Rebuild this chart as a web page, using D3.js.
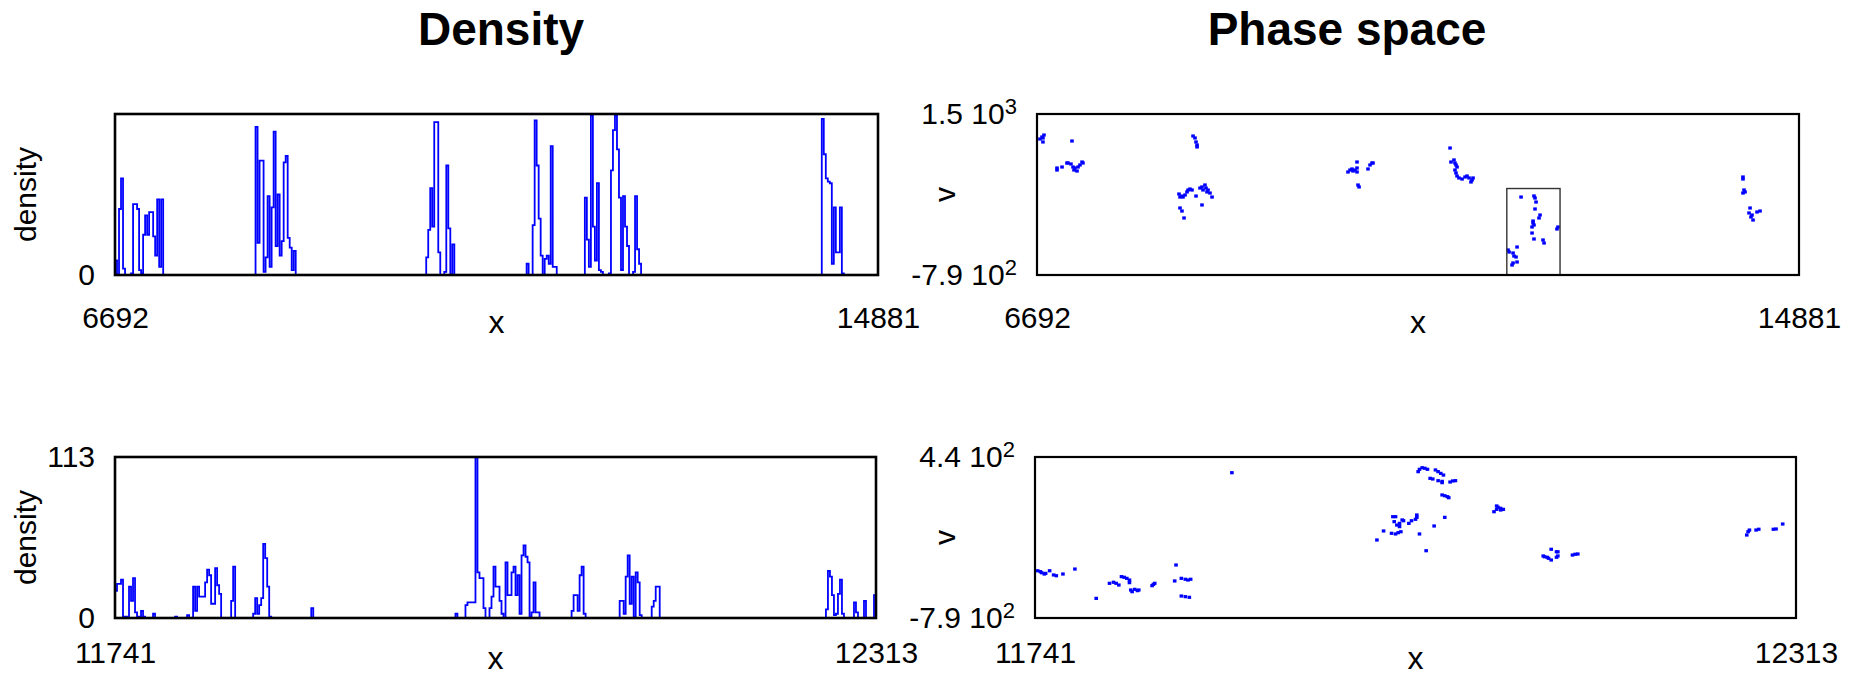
<!DOCTYPE html>
<html lang="en">

<head>
    <meta charset="utf-8">
    <title>Density / Phase space</title>
    <script type="text/javascript" src="https://d3js.org/d3.v7.min.js"></script>
    <style>
        body { margin: 0; background: #fff; }
        text { font-family: "Liberation Sans", Arial, Helvetica, sans-serif; fill: #000; }
    </style>
</head>

<body>
    <div id="container"></div>
    <script type="text/javascript">
        var w = 1858;
        var h = 677;

        // ---- data ----
        // density histograms: [first bin, heights of consecutive bins], 380 bins across the x range
        var nBins = 380;
        var topXRange = [6692, 14881];
        var topDensityMax = 100;          // top panel has no upper label, heights in % of panel
        var topDensityRuns = [
            [0, [9, 0, 41, 60, 4]],
            [8, [1, 44, 44, 41, 3, 1, 25, 37, 25, 39, 39, 24, 12, 47, 5, 47]],
            [70, [92, 20, 71, 71, 2, 11, 49, 5, 42, 89, 18, 50, 12, 21, 70, 74, 23, 17, 3, 15]],
            [155, [11, 28, 54, 30, 95, 95, 14, 0, 0, 2, 68, 29, 0, 19]],
            [205, [7, 0, 0, 31, 96, 68, 35, 12, 0, 10, 12, 7, 80, 5, 5]],
            [234, [48, 22, 5, 99, 30, 9, 57, 3, 2, 0, 0, 0, 1, 65, 90, 99, 78, 48, 3, 49, 30, 18, 0, 0, 2, 49, 16, 7]],
            [352, [97, 75, 60, 58, 57, 7, 42, 14, 14, 42, 1]]
        ];

        var bottomXRange = [11741, 12313];
        var bottomDensityMax = 113;
        var bottomDensityRuns = [
            [0, [19, 24, 24, 27, 1, 1, 0, 22, 12, 28, 4, 1, 1, 5, 1]],
            [19, [3]],
            [30, [1]],
            [36, [2]],
            [39, [22, 5, 22, 15, 15, 15, 25, 34, 30, 10, 10, 35, 23, 17]],
            [58, [12, 36]],
            [69, [3, 14, 3, 9, 14, 52, 42, 22, 1]],
            [98, [7]],
            [170, [3]],
            [175, [9, 11, 11, 11, 11, 113, 32, 28, 28, 7, 0, 0, 7, 15, 36, 22, 22, 12, 3, 0, 39, 16, 16, 32, 36, 16, 30, 3, 44, 51, 43, 39, 1, 4, 25, 4, 4]],
            [228, [5, 16, 16, 5, 30, 36, 3]],
            [252, [12, 12, 3, 29, 44, 10, 29, 1, 32, 25, 2]],
            [268, [8, 12, 22, 22]],
            [355, [6, 33, 29, 16, 2, 3, 17, 27, 3]],
            [369, [11, 4]],
            [374, [12]],
            [379, [16]]
        ];

        // phase space points [x, v]
        var topVRange = [-790, 1500];
        var topPhase = [
            [6724, 1144], [6746, 1173], [6756, 1159], [6767, 1201], [6756, 1102], [7068, 1116],
            [6907, 703], [6907, 732], [6961, 746], [7014, 803], [7025, 803], [7057, 789], [7079, 746], [7090, 703],
            [7100, 732], [7122, 689], [7133, 746], [7154, 775], [7176, 817], [7186, 803],
            [8369, 1187], [8390, 1159], [8401, 1102], [8412, 1059], [8412, 1031],
            [8218, 362], [8229, 319], [8250, 333], [8261, 319], [8283, 348], [8304, 391], [8315, 419], [8336, 433],
            [8358, 419], [8401, 333], [8444, 447], [8465, 462], [8476, 419], [8497, 490], [8508, 447], [8519, 391],
            [8530, 419], [8551, 376], [8573, 319], [8465, 206], [8229, 163], [8250, 120], [8272, 21],
            [10034, 675], [10056, 703], [10077, 718], [10088, 689], [10109, 703], [10131, 817], [10131, 675],
            [10142, 490], [10153, 462], [10249, 718], [10271, 775], [10292, 803], [10303, 803], [10131, 732],
            [11131, 1016], [11141, 817], [11173, 846], [11184, 803], [11195, 775], [11206, 746], [11184, 703],
            [11195, 661], [11206, 618], [11227, 590], [11260, 575], [11292, 604], [11313, 618], [11335, 590],
            [11367, 561], [11378, 590], [11356, 533],
            [11894, 319], [12033, 334], [12044, 305], [12055, 248], [12044, 149], [12098, 63], [12087, 21],
            [12023, -22], [12023, -50], [12033, -79], [12012, -107], [12012, -193], [12033, -278], [12130, -292],
            [12141, -335], [12291, -107], [12280, -136], [11754, -434], [11765, -463], [11808, -477], [11818, -520],
            [11840, -534], [11851, -605], [11808, -619], [11797, -648], [11851, -392],
            [14279, 604], [14279, 575], [14290, 419], [14279, 376], [14301, 391], [14355, 163], [14344, 92],
            [14365, 35], [14376, 63], [14387, -8], [14462, 120], [14430, 106]
        ];

        var bottomVRange = [-790, 440];
        var bottomPhase = [
            [11889, 320],
            [11743, -429], [11745, -436], [11746, -444], [11748, -454], [11749, -449], [11752, -429], [11755, -461],
            [11757, -467], [11762, -454], [11771, -416], [11787, -640],
            [11797, -525], [11800, -517], [11802, -525], [11804, -538], [11806, -474], [11808, -479], [11810, -487],
            [11812, -500], [11812, -520], [11813, -576], [11814, -589], [11816, -571], [11818, -581], [11819, -576],
            [11829, -543], [11830, -533], [11831, -525],
            [11847, -385], [11846, -507], [11851, -487], [11854, -494], [11856, -500], [11858, -494],
            [11851, -622], [11854, -627], [11857, -632],
            [11998, -194], [12003, -125], [12010, -16], [12012, -16], [12011, -54], [12013, -80], [12015, -67],
            [12017, -41], [12018, -47], [12015, -92], [12009, -143], [12012, -148], [12014, -138], [12016, -131],
            [12022, -67], [12024, -47], [12027, -36], [12028, -3], [12028, -21], [12030, -148], [12041, -87],
            [12049, -21], [12035, -276],
            [12029, 328], [12030, 346], [12032, 358], [12034, 354], [12036, 346], [12042, 341], [12044, 328],
            [12046, 315], [12048, 302], [12038, 277], [12040, 272], [12044, 259], [12047, 244], [12047, 254],
            [12053, 249], [12055, 257], [12057, 259], [12047, 150], [12049, 144], [12051, 137], [12052, 129],
            [12086, 22], [12088, 40], [12089, 56], [12091, 48], [12093, 40], [12088, 66], [12091, 35],
            [12123, -316], [12124, -322], [12126, -326], [12127, -334], [12129, -347], [12129, -265], [12133, -284],
            [12134, -284], [12133, -326], [12134, -316], [12145, -309], [12147, -303], [12149, -301],
            [12276, -156], [12277, -131], [12278, -118], [12283, -118], [12285, -112], [12296, -112], [12298, -110],
            [12303, -72]
        ];

        // zoom window of the lower phase plot, marked on the upper one
        var insetBox = [bottomXRange, bottomVRange];

        // ---- layout ----
        var boxes = {
            densTop: { l: 115, r: 878, t: 114, b: 275 },
            densBot: { l: 115, r: 876, t: 457, b: 618 },
            phaseTop: { l: 1037, r: 1799, t: 114, b: 275 },
            phaseBot: { l: 1035, r: 1796, t: 457, b: 618 }
        };
        var blue = "#0000ff";

        const svg = d3.select("div#container")
            .append("svg")
            .attr("width", w)
            .attr("height", h)
            .style("display", "block")
            .style("background-color", "#ffffff");

        svg.append("text").attr("x", 501).attr("y", 45).attr("text-anchor", "middle")
            .style("font-size", "46px").style("font-weight", "bold").text("Density");
        svg.append("text").attr("x", 1347).attr("y", 45).attr("text-anchor", "middle")
            .style("font-size", "46px").style("font-weight", "bold").text("Phase space");

        function styleAxis(g) {
            g.select(".domain").remove();
            g.selectAll("text").attr("font-size", 30)
                .attr("font-family", "'Liberation Sans', Arial, sans-serif").attr("fill", "#000");
        }

        function xAxis(b, x, pad, labelDy) {
            svg.append("g")
                .attr("transform", "translate(0," + b.b + ")")
                .call(d3.axisBottom(x).tickValues(x.domain()).tickSize(0).tickPadding(pad).tickFormat(d3.format("d")))
                .call(styleAxis);
            svg.append("text")
                .attr("x", (b.l + b.r) / 2)
                .attr("y", b.b + labelDy)
                .attr("text-anchor", "middle")
                .style("font-size", "32px")
                .text("x");
        }

        function yLabel(cx, b, txt) {
            var cy = (b.t + b.b) / 2;
            svg.append("text")
                .attr("transform", "translate(" + cx + "," + cy + ") rotate(-90)")
                .attr("text-anchor", "middle")
                .attr("dy", "0.35em")
                .style("font-size", "30px")
                .text(txt);
        }

        function drawFrame(b, sw) {
            svg.append("rect")
                .attr("x", b.l).attr("y", b.t)
                .attr("width", b.r - b.l).attr("height", b.b - b.t)
                .attr("fill", "none").attr("stroke", "#000").attr("stroke-width", sw);
        }

        function densityPanel(b, xr, ymax, runs, yTicks, pad, labelDy) {
            var x = d3.scaleLinear().domain(xr).range([b.l, b.r]);
            var y = d3.scaleLinear().domain([0, ymax]).range([b.b, b.t]);
            var bw = (xr[1] - xr[0]) / nBins;
            var line = d3.line().x(d => x(d[0])).y(d => y(d[1])).curve(d3.curveStepAfter);

            svg.append("g").selectAll("path")
                .data(runs)
                .enter()
                .append("path")
                .attr("d", function (r) {
                    var x0 = xr[0] + r[0] * bw;
                    var pts = [[x0, 0]];
                    r[1].forEach((v, i) => pts.push([x0 + i * bw, v]));
                    pts.push([x0 + r[1].length * bw, 0]);
                    return line(pts);
                })
                .attr("fill", "none")
                .attr("stroke", blue)
                .attr("stroke-width", 1.8);

            drawFrame(b, 2.6);

            svg.append("g")
                .attr("transform", "translate(" + b.l + ",0)")
                .call(d3.axisLeft(y).tickValues(yTicks).tickSize(0).tickPadding(20).tickFormat(d3.format("d")))
                .call(styleAxis);
            xAxis(b, x, pad, labelDy);
            yLabel(25, b, "density");
        }

        function sciLabel(v) {
            var e = Math.floor(Math.log10(Math.abs(v)));
            var m = v / Math.pow(10, e);
            return [m.toFixed(1) + " 10", String(e)];
        }

        function phasePanel(b, xr, vr, pts, pad, labelDy, inset) {
            var x = d3.scaleLinear().domain(xr).range([b.l, b.r]);
            var y = d3.scaleLinear().domain(vr).range([b.b, b.t]);

            svg.append("g").selectAll("rect")
                .data(pts)
                .enter()
                .append("rect")
                .attr("x", d => x(d[0]) - 1.8)
                .attr("y", d => y(d[1]) - 1.6)
                .attr("width", 3.6)
                .attr("height", 3.2)
                .attr("fill", blue);

            if (inset) {
                svg.append("rect")
                    .attr("x", x(inset[0][0])).attr("y", y(inset[1][1]))
                    .attr("width", x(inset[0][1]) - x(inset[0][0]))
                    .attr("height", y(inset[1][0]) - y(inset[1][1]))
                    .attr("fill", "none").attr("stroke", "#333").attr("stroke-width", 1.4);
            }

            drawFrame(b, 2.2);

            var ga = svg.append("g")
                .attr("transform", "translate(" + b.l + ",0)")
                .call(d3.axisLeft(y).tickValues(vr).tickSize(0).tickPadding(20))
                .call(styleAxis);
            ga.selectAll("text").each(function (d) {
                var s = sciLabel(d);
                var t = d3.select(this).text(null);
                t.append("tspan").text(s[0]);
                t.append("tspan").attr("dy", "-0.45em").attr("font-size", 22).text(s[1]);
            });
            xAxis(b, x, pad, labelDy);
            yLabel(944, b, "v");
        }

        densityPanel(boxes.densTop, topXRange, topDensityMax, topDensityRuns, [0], 32, 58);
        densityPanel(boxes.densBot, bottomXRange, bottomDensityMax, bottomDensityRuns, [0, bottomDensityMax], 24, 51);
        phasePanel(boxes.phaseTop, topXRange, topVRange, topPhase, 32, 58, insetBox);
        phasePanel(boxes.phaseBot, bottomXRange, bottomVRange, bottomPhase, 24, 51, null);
    </script>
</body>

</html>
